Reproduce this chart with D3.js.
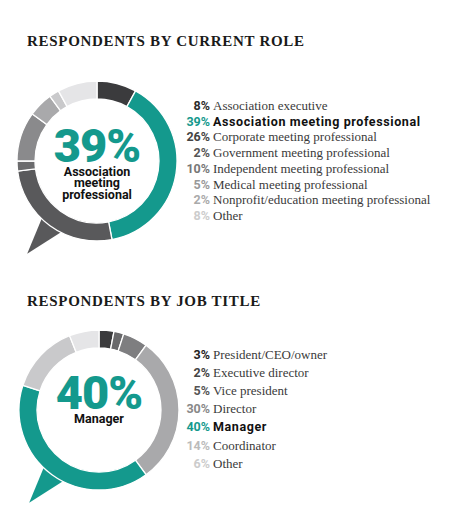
<!DOCTYPE html>
<html>
<head>
<meta charset="utf-8">
<script src="https://cdn.jsdelivr.net/npm/d3@7"></script>
<style>
  body { margin: 0; background: #fff; }
  .title { font-family: "Liberation Serif", serif; font-weight: 700; font-size: 15px; letter-spacing: 0.7px; fill: #1a1a1a; }
  .pct { font-family: Roboto, sans-serif; font-weight: 700; font-size: 12.5px; }
  .lbl { font-family: "Liberation Serif", serif; font-size: 13px; fill: #3a3a3a; }
  .lbl.hi { font-family: Roboto, sans-serif; font-weight: 700; font-size: 12.5px; letter-spacing: 0.6px; fill: #111; }
  .big { font-family: Roboto, sans-serif; font-weight: 900; font-size: 47px; fill: #14998d; letter-spacing: -1px; }
  .sub { font-family: Roboto, sans-serif; font-weight: 700; font-size: 12.5px; fill: #111; }
</style>
</head>
<body>
<div id="chart"></div>
<script>
// respondents by current role
const roleLabels = ['Association executive', 'Association meeting professional', 'Corporate meeting professional',
  'Government meeting professional', 'Independent meeting professional', 'Medical meeting professional',
  'Nonprofit/education meeting professional', 'Other'];
const roleValues = [8, 39, 26, 2, 10, 5, 2, 8];

// respondents by job title
const jobLabels = ['President/CEO/owner', 'Executive director', 'Vice president', 'Director', 'Manager', 'Coordinator', 'Other'];
const jobValues = [3, 2, 5, 30, 40, 14, 6];

const teal = '#14998d';
const roleColors = ['#3b3b3d', teal, '#59595b', '#6b6b6d', '#8a8a8c', '#a9a9ab', '#c9c9cb', '#e5e5e7'];
const rolePctColors = ['#2a2a2a', teal, '#444', '#555', '#777', '#999', '#aaa', '#ccc'];
const jobColors = ['#3b3b3d', '#69696b', '#7e7e80', '#a9a9ab', teal, '#c9c9cb', '#e5e5e7'];
const jobPctColors = ['#222', '#444', '#555', '#888', teal, '#bbb', '#ccc'];

const width = 450, height = 528;

const svg = d3.select('#chart')
  .append('svg')
  .attr('width', width)
  .attr('height', height);

function drawBlock(opts) {
  const g = svg.append('g');

  g.append('text')
    .attr('class', 'title')
    .attr('x', 27)
    .attr('y', opts.titleY)
    .text(opts.title);

  const donut = g.append('g').attr('transform', `translate(${opts.cx},${opts.cy})`);
  const rIn = 62, rOut = 80;

  const pie = d3.pie().sort(null).value(d => d);
  const arcs = pie(opts.values);
  const arc = d3.arc().innerRadius(rIn).outerRadius(rOut);

  // speech bubble tail, same colour as the slice it hangs off
  const deg = Math.PI / 180;
  const pt = (a, r) => [r * Math.sin(a * deg), -r * Math.cos(a * deg)];
  const tailAt = arcs.findIndex(d => d.startAngle <= 215 * deg && d.endAngle >= 215 * deg);
  donut.append('path')
    .attr('d', d3.line()([pt(202, 70), pt(227, 70), pt(217, 116)]) + 'Z')
    .attr('fill', opts.colors[tailAt]);

  donut.selectAll('path.slice')
    .data(arcs)
    .join('path')
    .attr('class', 'slice')
    .attr('d', arc)
    .attr('fill', (d, i) => opts.colors[i])
    .attr('stroke', '#fff')
    .attr('stroke-width', 1.3);

  const hi = opts.values.indexOf(d3.max(opts.values));
  donut.append('text')
    .attr('class', 'big')
    .attr('text-anchor', 'middle')
    .attr('y', opts.bigY)
    .text(opts.values[hi] + '%');

  donut.selectAll('text.sub')
    .data(opts.sub)
    .join('text')
    .attr('class', 'sub')
    .attr('text-anchor', 'middle')
    .attr('y', (d, i) => opts.subY + i * 11.3)
    .text(d => d);

  // legend
  const y = d3.scaleLinear().domain([0, 1]).range([opts.legendY, opts.legendY + opts.rowH]);
  const rows = g.selectAll('g.row')
    .data(opts.values)
    .join('g')
    .attr('class', 'row')
    .attr('transform', (d, i) => `translate(0,${y(i)})`);

  rows.append('text')
    .attr('class', 'pct')
    .attr('x', 210)
    .attr('text-anchor', 'end')
    .attr('fill', (d, i) => opts.pctColors[i])
    .text(d => d + '%');

  rows.append('text')
    .attr('class', (d, i) => i === hi ? 'lbl hi' : 'lbl')
    .attr('x', 213)
    .text((d, i) => opts.labels[i]);
}

drawBlock({
  title: 'RESPONDENTS BY CURRENT ROLE', titleY: 46,
  cx: 97, cy: 161,
  values: roleValues, labels: roleLabels, colors: roleColors, pctColors: rolePctColors,
  bigY: 1, sub: ['Association', 'meeting', 'professional'], subY: 15,
  legendY: 110, rowH: 15.7
});

drawBlock({
  title: 'RESPONDENTS BY JOB TITLE', titleY: 306,
  cx: 99, cy: 410,
  values: jobValues, labels: jobLabels, colors: jobColors, pctColors: jobPctColors,
  bigY: -1, sub: ['Manager'], subY: 13,
  legendY: 359, rowH: 18.1
});
</script>
</body>
</html>
